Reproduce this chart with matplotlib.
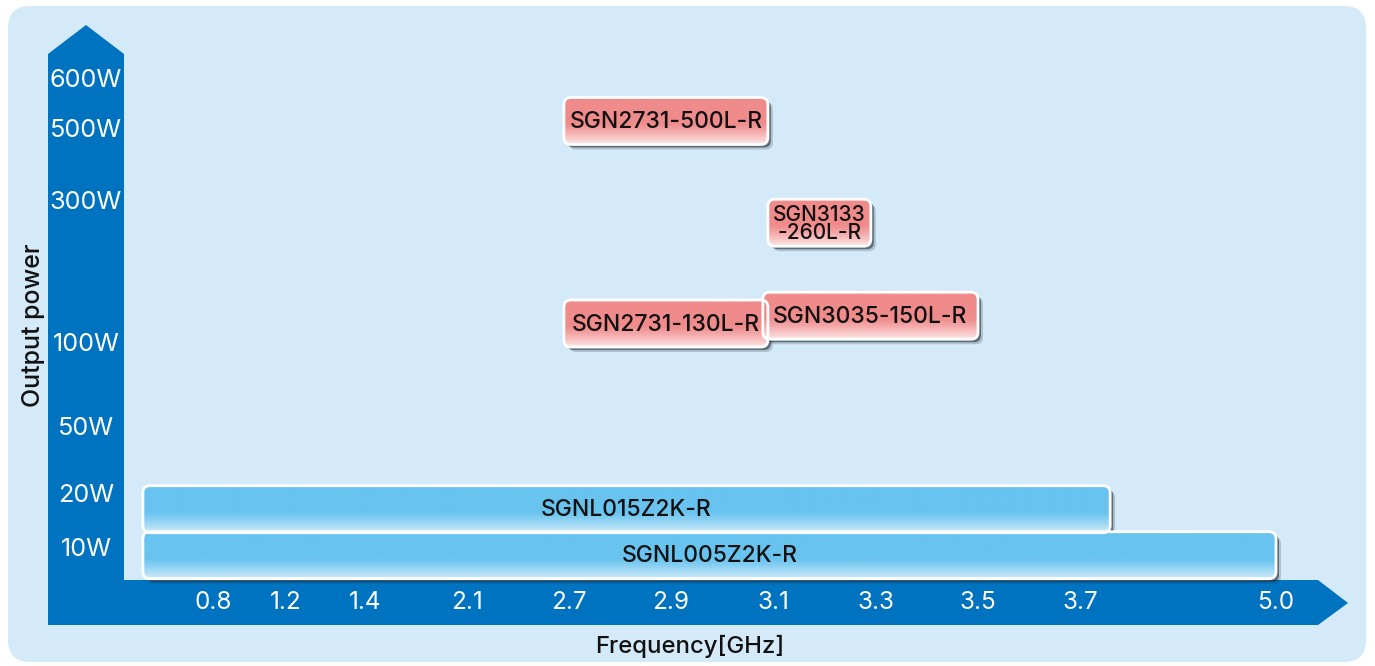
import numpy as np
import matplotlib
matplotlib.use('Agg')
import matplotlib.pyplot as plt
from matplotlib.patches import FancyBboxPatch, Polygon
from matplotlib.colors import to_rgb

plt.rcParams['font.family'] = ['Inter', 'DejaVu Sans']

# chart data
freq_ticks = [0.8, 1.2, 1.4, 2.1, 2.7, 2.9, 3.1, 3.3, 3.5, 3.7, 5.0]
power_ticks = [10, 20, 50, 100, 300, 500, 600]
power_labels = ['10W', '20W', '50W', '100W', '300W', '500W', '600W']

parts = ['SGNL005Z2K-R', 'SGNL015Z2K-R', 'SGN2731-500L-R',
         'SGN3133\n-260L-R', 'SGN2731-130L-R', 'SGN3035-150L-R']
f_start = [0.17, 0.17, 2.67, 3.09, 2.67, 3.08]
f_stop = [5.0, 3.9, 3.09, 3.29, 3.09, 3.5]
power = [7.5, 17, 514, 268, 126, 137]
kind = ['lna', 'lna', 'hpa', 'hpa', 'hpa', 'hpa']

# the axes are not uniform: anchor values -> pixel positions
X_GHZ = [0.0, 0.8, 1.2, 1.4, 2.1, 2.7, 2.9, 3.1, 3.3, 3.5, 3.7, 5.0, 5.28]
X_PX = [124, 213, 286, 365, 467, 569, 671, 773, 876, 978, 1080, 1276, 1318]
Y_W = [0, 10, 20, 50, 100, 300, 500, 600, 650]
Y_PX = [580, 547, 493, 426, 342, 200, 128, 78, 54]

W, H = 1375, 666
BLUE = '#0073c0'
PANEL = '#d5eaf8'
GRAD = {'hpa': ('#f08b8b', '#fde6e6'), 'lna': ('#68c3ef', '#d2ecfa')}


def fwd_x(v):
    return np.interp(v, X_GHZ, X_PX)


def inv_x(p):
    return np.interp(p, X_PX, X_GHZ)


def fwd_y(v):
    return -np.interp(v, Y_W, Y_PX)


def inv_y(s):
    return np.interp(s, -np.array(Y_PX, dtype=float), Y_W)


fig = plt.figure(figsize=(W / 100, H / 100), dpi=100)
fig.patch.set_facecolor('white')

# background layer in pixel units
bg = fig.add_axes([0, 0, 1, 1], zorder=0)
bg.set_xlim(0, W)
bg.set_ylim(H, 0)
bg.axis('off')

bg.add_patch(FancyBboxPatch((8, 6), 1358, 656, boxstyle='round,pad=0,rounding_size=22',
                            fc=PANEL, ec='none', zorder=0))
bg.add_patch(Polygon([(48, 580), (48, 54), (86, 25), (124, 54), (124, 580)],
                     closed=True, fc=BLUE, ec='none', zorder=1))
bg.add_patch(Polygon([(48, 580), (1318, 580), (1348, 603), (1318, 625), (48, 625)],
                     closed=True, fc=BLUE, ec='none', zorder=1))

# data axes
ax = fig.add_axes([124 / W, (H - 580) / H, (1318 - 124) / W, (580 - 54) / H], zorder=2)
ax.patch.set_alpha(0)
ax.set_xscale('function', functions=(fwd_x, inv_x))
ax.set_yscale('function', functions=(fwd_y, inv_y))
ax.set_xlim(0.0, 5.28)
ax.set_ylim(0, 650)
for s in ax.spines.values():
    s.set_visible(False)

ax.set_xticks(freq_ticks, labels=[f'{f:.1f}' for f in freq_ticks])
ax.set_yticks(power_ticks, labels=power_labels)
ax.xaxis.set_minor_locator(matplotlib.ticker.NullLocator())
ax.yaxis.set_minor_locator(matplotlib.ticker.NullLocator())
ax.tick_params(axis='x', length=0, pad=16.5, labelsize=17.5, labelcolor='white')
ax.tick_params(axis='y', length=0, pad=27.4, labelsize=18.2, labelcolor='white')
plt.setp(ax.get_xticklabels(), va='center')
plt.setp(ax.get_yticklabels(), ha='center')

ax.set_ylabel('Output power', fontsize=18, color='#111111', fontweight='medium')
ax.yaxis.set_label_coords(-0.066, 0.485)
ax.set_xlabel('Frequency[GHz]', fontsize=17.2, color='#111111', fontweight='medium')
ax.xaxis.set_label_coords(0.474, -0.104)

to_bg = bg.transData.inverted()
box_h = 47
t = np.linspace(0, 1, 80)
wgt = np.clip((t - 0.55) / 0.45, 0, 1) ** 1.2

for name, fs, fe, pw, k in zip(parts, f_start, f_stop, power, kind):
    x0, yc = to_bg.transform(ax.transData.transform((fs, pw)))
    x1, _ = to_bg.transform(ax.transData.transform((fe, pw)))
    y0 = yc - box_h / 2
    style = 'round,pad=0,rounding_size=7'
    for off, a in [(5, 0.2), (3, 0.55)]:
        bg.add_patch(FancyBboxPatch((x0 + off, y0 + off), x1 - x0, box_h, boxstyle=style,
                                    fc='#1b2633', ec='none', alpha=a, zorder=3))
    body = FancyBboxPatch((x0, y0), x1 - x0, box_h, boxstyle=style,
                          fc='none', ec='white', lw=2, zorder=5)
    bg.add_patch(body)
    top, bot = np.array(to_rgb(GRAD[k][0])), np.array(to_rgb(GRAD[k][1]))
    grad = (top[None, :] * (1 - wgt[:, None]) + bot[None, :] * wgt[:, None])[:, None, :]
    im = bg.imshow(grad, extent=(x0, x1, y0 + box_h, y0), aspect='auto',
                   interpolation='bilinear', zorder=4)
    im.set_clip_path(body)
    two = '\n' in name
    bg.text((x0 + x1) / 2, yc + 1, name, ha='center', va='center',
            fontsize=15 if two else 16.5, linespacing=0.9, color='#111111',
            fontweight='medium', zorder=6)

bg.set_xlim(0, W)
bg.set_ylim(H, 0)

fig.savefig('out.png', dpi=100)
